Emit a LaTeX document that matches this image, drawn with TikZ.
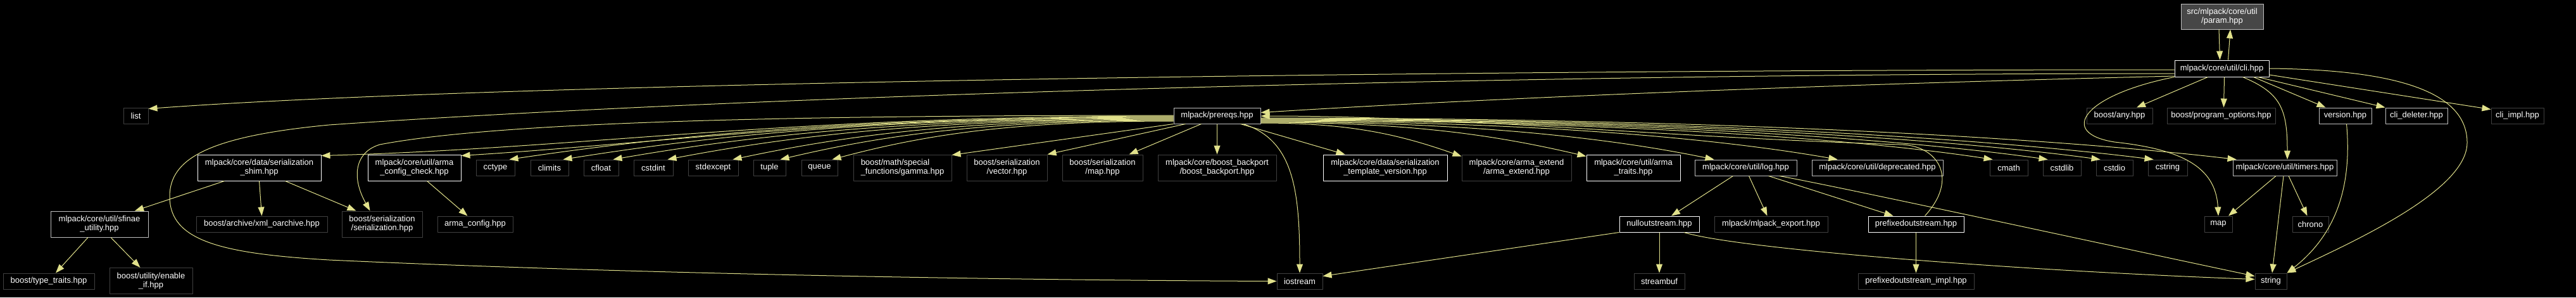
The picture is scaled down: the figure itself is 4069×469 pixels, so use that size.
\documentclass[tikz,border=0pt]{standalone}
\usepackage{fontspec}
\setmainfont{Liberation Sans}
\usetikzlibrary{arrows.meta}
\definecolor{edgeyellow}{HTML}{E1E18B}
\definecolor{boxgray}{HTML}{BFBFBF}
\definecolor{extgray}{HTML}{404040}
\definecolor{srcfill}{HTML}{474747}
\newcommand{\graphfont}{\fontsize{13}{14}\selectfont}
\tikzset{
    every picture/.style={line join=round},
    extfile/.style={draw=extgray,fill=black,text=white,line width=1pt,
      minimum height=25pt,inner sep=1pt,font=\graphfont,align=center},
    docfile/.style={extfile,draw=white},
    grayfile/.style={extfile,draw=boxgray},
    twoline/.style={minimum height=41pt},
    dep/.style={-{Triangle[length=14pt,width=10pt]},draw=edgeyellow,
      line width=1pt}
}

\begin{document}
\begin{tikzpicture}[x=1pt,y=-1pt]
  \fill[black] (0,0) rectangle (4069,469);
  % files
  \node[grayfile,fill=srcfill,minimum width=130pt,minimum height=40pt] (param) at (3510,26) {src/mlpack/core/util\\/param.hpp};
  \node[docfile,minimum width=149pt,minimum height=26pt] (cli) at (3509.5,108) {mlpack/core/util/cli.hpp};
  \node[grayfile,minimum width=137pt] (prereqs) at (1922.5,182.5) {mlpack/prereqs.hpp};
  \foreach \n/\x/\w/\t in {list/214.5/39/{list},any/3348/104/{boost/any.hpp},
      progopt/3508.5/171/{boost/program\_options.hpp},cliimpl/3976.5/83/{cli\_impl.hpp}} {
    \node[extfile,minimum width=\w pt] (\n) at (\x,182.5) {\t};
  }
  \node[grayfile,minimum width=83pt] (version) at (3704.5,182.5) {version.hpp};
  \node[grayfile,minimum width=98pt] (clideleter) at (3817,182.5) {cli\_deleter.hpp};
  % third row
  \foreach \n/\x/\w/\t in {cctype/782.5/61/{cctype},climits/868/60/{climits},
      cfloat/949.5/55/{cfloat},cstdint/1032/62/{cstdint},stdexcept/1126.5/79/{stdexcept},
      tuple/1215.5/51/{tuple},queue/1294.5/57/{queue},cmath/3173/60/{cmath},
      cstdlib/3257/60/{cstdlib},cstdio/3340/58/{cstdio},cstring/3424/62/{cstring}} {
    \node[extfile,minimum width=\w pt] (\n) at (\x,264.5) {\t};
  }
  \foreach \n/\x/\w/\t in {bsvector/1590.5/127/{boost/serialization\\/vector.hpp},
      bsmap/1741.5/127/{boost/serialization\\/map.hpp},
      backport/1922.5/187/{mlpack/core/boost\_backport\\/boost\_backport.hpp},
      armaext/2395.5/173/{mlpack/core/arma\_extend\\/arma\_extend.hpp}} {
    \node[extfile,twoline,minimum width=\w pt] (\n) at (\x,264.5) {\t};
  }
  \node[extfile,twoline,align=left,minimum width=155pt] (gamma) at (1425.5,264.5) {boost/math/special\\\_functions/gamma.hpp};
  \foreach \n/\x/\w/\t in {shim/409.5/195/{mlpack/core/data/serialization\\\_shim.hpp},
      armacc/654.5/147/{mlpack/core/util/arma\\\_config\_check.hpp},
      stv/2188/196/{mlpack/core/data/serialization\\\_template\_version.hpp},
      armatraits/2580/148/{mlpack/core/util/arma\\\_traits.hpp}} {
    \node[docfile,twoline,minimum width=\w pt] (\n) at (\x,264.5) {\t};
  }
  \node[grayfile,minimum width=161pt] (log) at (2757.5,264.5) {mlpack/core/util/log.hpp};
  \node[grayfile,minimum width=207pt] (deprecated) at (2965.5,264.5) {mlpack/core/util/deprecated.hpp};
  \node[grayfile,minimum width=164pt] (timers) at (3609,264.5) {mlpack/core/util/timers.hpp};
  % fourth row
  \node[grayfile,twoline,minimum width=154pt] (sfinae) at (157,353.5) {mlpack/core/util/sfinae\\\_utility.hpp};
  \node[extfile,twoline,minimum width=127pt] (bsser) at (603.5,353.5) {boost/serialization\\/serialization.hpp};
  \foreach \n/\x/\w/\t in {xmloa/413.5/207/{boost/archive/xml\_oarchive.hpp},
      armaconfig/750.5/119/{arma\_config.hpp},export/2797.5/179/{mlpack/mlpack\_export.hpp},
      map/3504/44/{map},chrono/3649.5/57/{chrono}} {
    \node[extfile,minimum width=\w pt] (\n) at (\x,353.5) {\t};
  }
  \node[docfile,minimum width=126pt] (nullos) at (2621,353.5) {nulloutstream.hpp};
  \node[docfile,minimum width=151pt] (prefixos) at (3026.5,353.5) {prefixedoutstream.hpp};
  % bottom row
  \foreach \n/\x/\w/\t in {typetraits/77/144/{boost/type\_traits.hpp},
      iostream/2053/72/{iostream},streambuf/2621/80/{streambuf},
      prefiximpl/3026.5/183/{prefixedoutstream\_impl.hpp},string/3587/50/{string}} {
    \node[extfile,minimum width=\w pt] (\n) at (\x,443.5) {\t};
  }
  \node[extfile,twoline,minimum width=131pt] (enableif) at (238.5,443) {boost/utility/enable\\\_if.hpp};

  % param.hpp and cli.hpp
  \draw[dep] ([xshift=-5pt]param.south) -- ([xshift=-3pt]cli.north);
  \draw[dep] ([xshift=10pt]cli.north) -- ([xshift=13pt]param.south);
  \draw[dep] ([yshift=-2pt]cli.west) .. controls (2300,110) and (800,130) .. ([yshift=-2pt]list.north east);
  \draw[dep] ([yshift=-8pt]cli.west) .. controls (2400,116) and (1200,150) .. (520,197)
    .. controls (330,215) and (268,250) .. (268,310) .. controls (268,380) and (350,400) .. (520,410)
    .. controls (1000,432) and (1600,442) .. (iostream.west);
  \draw[dep] ([yshift=-12pt]cli.west) .. controls +(-500,12) and +(400,-25) .. ([yshift=5pt]prereqs.east);
  \draw[dep] (cli.south west) .. controls (3290,150) and (3250,210) .. (3340,224)
    .. controls (3440,235) and (3500,260) .. (map.north);
  \draw[dep] ([xshift=-22pt]cli.south) -- ([xshift=27pt]any.north);
  \draw[dep] ([xshift=4pt]cli.south) -- ([xshift=4pt]progopt.north);
  \draw[dep] ([xshift=33pt]cli.south) .. controls +(60,25) and +(0,-80) .. ([xshift=4pt]timers.north);
  \draw[dep] ([xshift=50pt]cli.south) -- ([xshift=-31pt]version.north);
  \draw[dep] ([xshift=57pt]cli.south) -- (clideleter.north west);
  \draw[dep] ([yshift=-10pt]cli.east) -- ([yshift=-3pt]cliimpl.north west);
  \draw[dep] (cli.east) .. controls (3800,110) and (3897,150) .. (3897,225)
    .. controls (3897,300) and (3720,380) .. (string.north east);

  % prereqs.hpp, to the left
  \draw[dep] ([yshift=0.5pt]prereqs.west) .. controls (1300,182) and (800,190) .. (600,228)
    .. controls (560,240) and (555,280) .. ([xshift=45pt]bsser.north west);
  \draw[dep] ([yshift=-0.5pt]prereqs.west) .. controls +(-620,0) and +(420,-12) .. ([yshift=-2pt]shim.north east);
  \draw[dep] ([yshift=-1.5pt]prereqs.west) .. controls +(-520,0) and +(320,-20) .. ([yshift=-2pt]armacc.north east);
  \foreach \n/\k/\s/\c in {cctype/-2.5/490/270,climits/-3.5/450/250,cfloat/-4.5/410/230,
      cstdint/-5.5/370/210,stdexcept/-6.5/330/190,tuple/-7.5/290/170,queue/-8.5/250/150} {
    \draw[dep] ([yshift=\k pt]prereqs.west) .. controls +(-\s,0) and +(\c,-40) .. ([xshift=-9pt]\n.north east);
  }
  \draw[dep] (prereqs.south west) -- ([yshift=-1pt]gamma.north east);
  \draw[dep] ([xshift=-50pt]prereqs.south) -- (bsvector.north east);
  \draw[dep] ([xshift=-25pt]prereqs.south) -- ([xshift=-22pt]bsmap.north east);
  \draw[dep] (prereqs.south) -- (backport.north);
  % prereqs.hpp, to the right
  \draw[dep] ([xshift=37pt]prereqs.south) -- ([xshift=35pt]stv.north west);
  \draw[dep] ([xshift=41pt]prereqs.south) .. controls +(80,25) and +(0,-130) .. (iostream.north);
  \foreach \n/\k/\s/\c/\e/\f in {armaext/-11.5/140/100/0/-3,armatraits/-10.5/230/150/0/-3,
      log/-9.5/320/170/31/0,deprecated/-8.5/410/200/41/0,cmath/-7.5/520/230/5/0,
      cstdlib/-6.5/560/250/8/0,cstdio/-5.5/600/260/7/0,cstring/-4.5/640/280/9/0,
      timers/-3.5/700/300/6/0} {
    \draw[dep] ([yshift=\k pt]prereqs.east) .. controls +(\s,0) and +(-\c,-35) .. ([xshift=\e pt,yshift=\f pt]\n.north west);
  }
  \draw[dep] ([xshift=14pt]prefixos.north) .. controls +(55,-60) and +(60,0) .. (3000,228)
    .. controls (2600,215) and (2300,183) .. ([yshift=-0.5pt]prereqs.east);

  % timers.hpp and version.hpp
  \draw[dep] ([xshift=2pt]version.south) .. controls +(10,110) and +(70,-55) .. (string.north east);
  \draw[dep] ([xshift=-14pt]timers.south) -- ([xshift=16pt]map.north);
  \draw[dep] ([xshift=-2pt]timers.south) -- ([xshift=2pt]string.north);
  \draw[dep] ([xshift=6pt]timers.south) -- ([xshift=-5pt]chrono.north);

  % log.hpp and the streams
  \draw[dep] ([xshift=-20pt]log.south) -- ([xshift=19pt]nullos.north);
  \draw[dep] ([xshift=5pt]log.south) -- ([xshift=-6pt]export.north);
  \draw[dep] ([xshift=36pt]log.south) -- ([xshift=-36pt]prefixos.north);
  \draw[dep] ([xshift=53pt]log.south) .. controls +(100,18) and +(-200,-42) .. ([yshift=8pt]string.west);
  \draw[dep] (nullos.south) -- (streambuf.north);
  \draw[dep] (nullos.south west) -- ([yshift=8pt]iostream.east);
  \draw[dep] ([xshift=39pt]nullos.south) .. controls +(80,25) and +(-400,-15) .. ([yshift=3pt]string.west);
  \draw[dep] (prefixos.south) -- (prefiximpl.north);

  % serialization shim, arma config, sfinae
  \draw[dep] ([xshift=-55pt]shim.south) -- ([xshift=56pt]sfinae.north);
  \draw[dep] (shim.south) -- (xmloa.north);
  \draw[dep] ([xshift=41pt]shim.south) -- ([xshift=-41pt]bsser.north);
  \draw[dep] ([xshift=20pt]armacc.south) -- ([xshift=-12pt]armaconfig.north);
  \draw[dep] ([xshift=-18pt]sfinae.south) -- ([xshift=11pt]typetraits.north);
  \draw[dep] ([xshift=18pt]sfinae.south) -- ([xshift=-17pt]enableif.north);
\end{tikzpicture}
\end{document}
